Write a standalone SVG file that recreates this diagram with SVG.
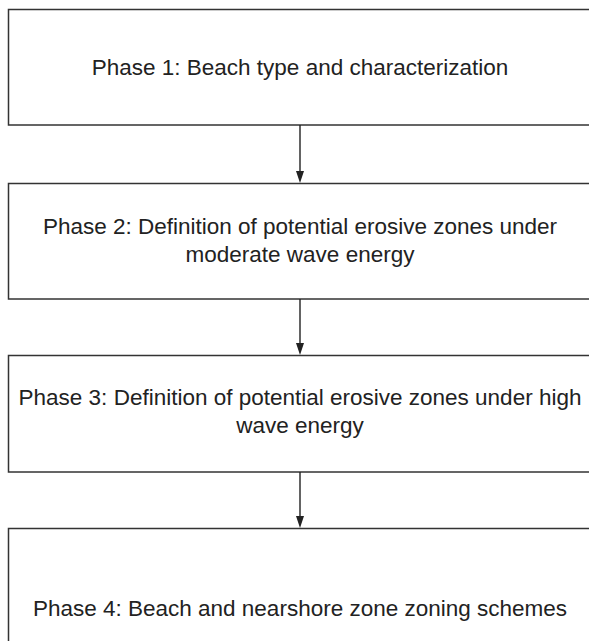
<svg xmlns="http://www.w3.org/2000/svg" width="589" height="641" viewBox="0 0 589 641">
  <style>
    .box { fill: #ffffff; stroke: #333333; stroke-width: 1.5; }
    .lbl { font-family: "Liberation Sans", Arial, sans-serif; font-size: 22.5px; fill: #222222; text-anchor: middle; }
    .conn { stroke: #222222; stroke-width: 1.4; fill: none; }
  </style>
  <defs>
    <marker id="arrow" markerWidth="8" markerHeight="12" refX="4" refY="12" orient="auto-start-reverse" markerUnits="userSpaceOnUse" viewBox="0 0 8 12">
      <path d="M0,0 L8,0 L4,12 Z" fill="#222222" transform="rotate(-90 4 6) translate(0 0)"/>
    </marker>
  </defs>
  <rect x="0" y="0" width="589" height="641" fill="#ffffff"/>
  <g id="phase1">
    <rect class="box" x="8.5" y="9.5" width="600" height="115.5"/>
    <text class="lbl" x="300" y="75">Phase 1: Beach type and characterization</text>
  </g>
  <g id="phase2">
    <rect class="box" x="8.5" y="183.5" width="600" height="115.5"/>
    <text class="lbl" x="300" y="234">Phase 2: Definition of potential erosive zones under</text>
    <text class="lbl" x="300" y="262">moderate wave energy</text>
  </g>
  <g id="phase3">
    <rect class="box" x="8.5" y="355.5" width="600" height="116.5"/>
    <text class="lbl" x="300" y="405">Phase 3: Definition of potential erosive zones under high</text>
    <text class="lbl" x="300" y="433">wave energy</text>
  </g>
  <g id="phase4">
    <rect class="box" x="8.5" y="528.5" width="600" height="140"/>
    <text class="lbl" x="300" y="616">Phase 4: Beach and nearshore zone zoning schemes</text>
  </g>
  <g id="connectors">
    <line class="conn" x1="300" y1="125" x2="300" y2="172"/>
    <path d="M296,171 L304,171 L300,183 Z" fill="#222222"/>
    <line class="conn" x1="300" y1="299" x2="300" y2="344"/>
    <path d="M296,343 L304,343 L300,355 Z" fill="#222222"/>
    <line class="conn" x1="300" y1="472" x2="300" y2="517"/>
    <path d="M296,516 L304,516 L300,528 Z" fill="#222222"/>
  </g>
</svg>
